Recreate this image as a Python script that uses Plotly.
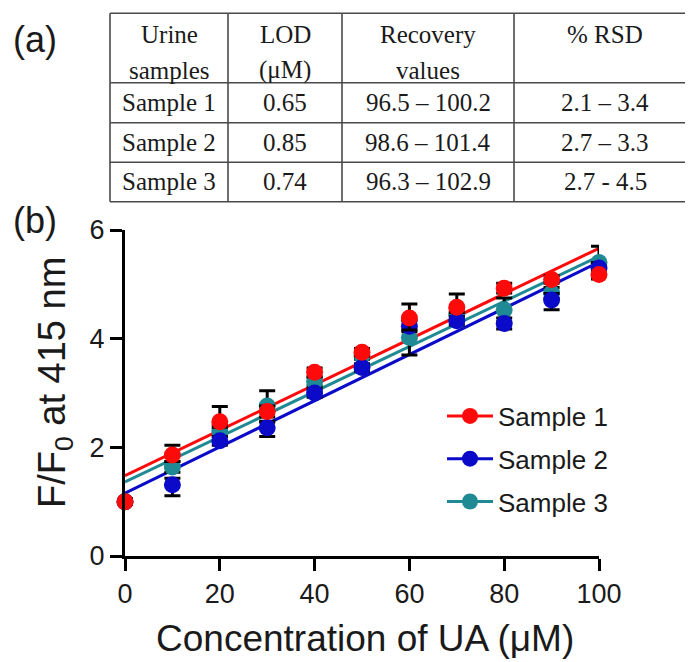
import numpy as np
import plotly.graph_objects as go

# ---------------- data ----------------
conc = [0, 10, 20, 30, 40, 50, 60, 70, 80, 90, 100]

s1_y = [1.00, 1.86, 2.47, 2.66, 3.38, 3.75, 4.38, 4.58, 4.93, 5.09, 5.18]
s1_up = [0.05, 0.18, 0.28, 0.10, 0.08, 0.07, 0.26, 0.24, 0.09, 0.07, 0.06]
s1_dn = [0.05, 0.12, 0.10, 0.10, 0.08, 0.07, 0.22, 0.10, 0.09, 0.07, 0.06]

s2_y = [1.00, 1.31, 2.12, 2.36, 3.00, 3.47, 4.23, 4.33, 4.28, 4.71, 5.30]
s2_up = [0.05, 0.12, 0.08, 0.10, 0.08, 0.07, 0.10, 0.08, 0.10, 0.12, 0.10]
s2_dn = [0.05, 0.20, 0.08, 0.16, 0.08, 0.07, 0.10, 0.08, 0.10, 0.18, 0.10]

s3_y = [1.00, 1.64, 2.30, 2.76, 3.21, 3.69, 4.02, 4.45, 4.53, 4.84, 5.40]
s3_up = [0.05, 0.10, 0.10, 0.28, 0.08, 0.07, 0.32, 0.10, 0.22, 0.10, 0.30]
s3_dn = [0.05, 0.10, 0.10, 0.28, 0.08, 0.07, 0.32, 0.10, 0.22, 0.10, 0.30]

series_names = ["Sample 1", "Sample 2", "Sample 3"]

x_ticks = [0, 20, 40, 60, 80, 100]
y_ticks = [0, 2, 4, 6]

table_header = [["Urine", "samples"], ["LOD", "(μM)"], ["Recovery", "values"], ["% RSD", ""]]
table_rows = [
    ["Sample 1", "0.65", "96.5 – 100.2", "2.1 – 3.4"],
    ["Sample 2", "0.85", "98.6 – 101.4", "2.7 – 3.3"],
    ["Sample 3", "0.74", "96.3 – 102.9", "2.7 - 4.5"],
]

# ---------------- styling ----------------
# the page body has an 8px margin, so the figure is placed at (8, 8)
OFF = 8
W, H = 693 - OFF, 662 - OFF
colors = {"Sample 1": "#ff0a0a", "Sample 2": "#0a0ac8", "Sample 3": "#1f8a94"}
SANS = "Arial, Liberation Sans, sans-serif"
SERIF = "Times New Roman, Liberation Serif, serif"
INK = "#1a1a1a"


def px(x):
    return (x - OFF) / W


def py(y):
    return 1 - (y - OFF) / H


data = {
    "Sample 1": (s1_y, s1_up, s1_dn),
    "Sample 2": (s2_y, s2_up, s2_dn),
    "Sample 3": (s3_y, s3_up, s3_dn),
}

fig = go.Figure()

# fit lines (linear regression of each series), drawn beneath the markers
for name in ["Sample 3", "Sample 2", "Sample 1"]:
    y = data[name][0]
    k, b = np.polyfit(conc, y, 1)
    xs = [conc[0], conc[-1]]
    fig.add_trace(go.Scatter(
        x=xs, y=[k * v + b for v in xs], mode="lines",
        line=dict(color=colors[name], width=3), showlegend=False,
        hoverinfo="skip", cliponaxis=False))

# data points with error bars (teal at the bottom, red on top)
for name in ["Sample 3", "Sample 2", "Sample 1"]:
    y, up, dn = data[name]
    fig.add_trace(go.Scatter(
        x=conc, y=y, mode="markers", name=name, showlegend=False,
        marker=dict(color=colors[name], size=17, line=dict(width=0)),
        error_y=dict(type="data", symmetric=False, array=up, arrayminus=dn,
                     color="black", thickness=3, width=8),
        cliponaxis=False))

# legend entries (line + marker)
for i, name in enumerate(series_names):
    fig.add_trace(go.Scatter(
        x=[None], y=[None], mode="lines+markers", name=name,
        legendgroup=name, legendrank=i + 1,
        line=dict(color=colors[name], width=3),
        marker=dict(color=colors[name], size=16)))

axis_common = dict(
    showline=True, linecolor="black", linewidth=3, ticks="outside",
    ticklen=12, tickwidth=3, tickcolor="black", showgrid=False,
    zeroline=False, automargin=False,
    tickfont=dict(family=SANS, size=27, color=INK),
)

fig.update_layout(
    width=W, height=H, autosize=False,
    margin=dict(l=0, r=0, t=0, b=0),
    paper_bgcolor="white", plot_bgcolor="white",
    xaxis=dict(domain=[px(125), px(599)], range=[0, 100],
               tickvals=x_ticks, **axis_common),
    yaxis=dict(domain=[py(556), py(230)], range=[0, 6],
               tickvals=y_ticks, **axis_common),
    legend=dict(x=px(442), y=py(459), xanchor="left", yanchor="middle",
                bgcolor="rgba(0,0,0,0)", borderwidth=0,
                font=dict(family=SANS, size=26, color=INK),
                tracegroupgap=6, itemwidth=46),
    showlegend=True,
)

ann = []
# axis titles
ann.append(dict(text="Concentration of UA (μM)", x=px(365), y=py(638),
                xref="paper", yref="paper", showarrow=False,
                xanchor="center", yanchor="middle",
                font=dict(family=SANS, size=37, color=INK)))
ann.append(dict(text="F/F<sub>0</sub> at 415 nm", x=px(55), y=py(383),
                xref="paper", yref="paper", showarrow=False, textangle=-90,
                xanchor="center", yanchor="middle",
                font=dict(family=SANS, size=38, color=INK)))
# panel labels
for lab, cy in [("(a)", 39), ("(b)", 221)]:
    ann.append(dict(text=lab, x=px(35), y=py(cy), xref="paper", yref="paper",
                    showarrow=False, xanchor="center", yanchor="middle",
                    font=dict(family=SANS, size=36, color=INK)))

# ---------------- table (a) ----------------
col_edges = [110, 228, 342, 514, 693]
row_edges = [13.3, 82.7, 122.7, 162.3, 201.7]
shapes = []
line_style = dict(color="#4a4a4a", width=1.6)
for ye in row_edges:
    shapes.append(dict(type="line", xref="paper", yref="paper",
                       x0=px(col_edges[0]), x1=px(col_edges[-1]),
                       y0=py(ye), y1=py(ye), line=line_style))
for xe in col_edges[:-1]:
    shapes.append(dict(type="line", xref="paper", yref="paper",
                       x0=px(xe), x1=px(xe), y0=py(row_edges[0]),
                       y1=py(row_edges[-1]), line=line_style))

col_centers = [(col_edges[i] + col_edges[i + 1]) / 2 for i in range(4)]
col_centers[3] = 605
header_line_y = [34, 70]
for ci, lines in enumerate(table_header):
    for li, t in enumerate(lines):
        if not t:
            continue
        ann.append(dict(text=t, x=px(col_centers[ci]), y=py(header_line_y[li]),
                        xref="paper", yref="paper", showarrow=False,
                        xanchor="center", yanchor="middle",
                        font=dict(family=SERIF, size=25, color=INK)))
for ri, row in enumerate(table_rows):
    cy = (row_edges[ri + 1] + row_edges[ri + 2]) / 2
    for ci, t in enumerate(row):
        ann.append(dict(text=t, x=px(col_centers[ci]), y=py(cy),
                        xref="paper", yref="paper", showarrow=False,
                        xanchor="center", yanchor="middle",
                        font=dict(family=SERIF, size=25, color=INK)))

fig.update_layout(annotations=ann, shapes=shapes)
fig.write_html("out.html")
